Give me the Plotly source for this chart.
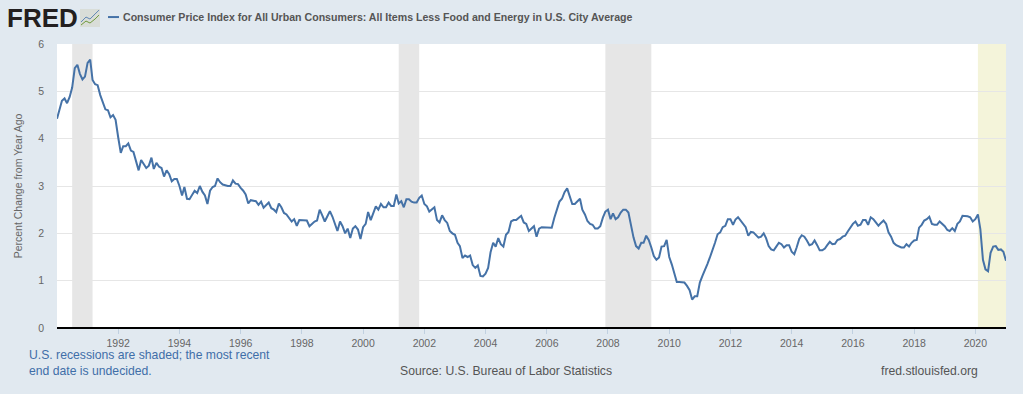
import pandas as pd
import plotly.graph_objects as go

values = [
 4.42,4.6,4.8,4.85,4.75,4.88,5.08,5.49,5.56,5.37,5.25,5.31,
 5.6,5.67,5.24,5.15,5.13,4.92,4.75,4.62,4.6,4.45,4.5,4.4,
 4.03,3.7,3.84,3.84,3.9,3.75,3.72,3.55,3.33,3.55,3.47,3.38,
 3.43,3.6,3.36,3.49,3.41,3.38,3.2,3.33,3.25,3.1,3.15,3.15,
 3.0,2.8,2.98,2.73,2.72,2.82,2.9,2.85,3.0,2.88,2.8,2.62,
 2.9,2.98,3.0,3.16,3.08,3.03,3.01,3.0,3.0,3.12,3.05,3.04,
 2.96,2.9,2.82,2.63,2.7,2.69,2.68,2.6,2.67,2.54,2.6,2.65,
 2.53,2.5,2.45,2.63,2.55,2.43,2.4,2.33,2.25,2.3,2.16,2.28,
 2.28,2.28,2.27,2.15,2.2,2.25,2.27,2.5,2.38,2.25,2.36,2.47,
 2.35,2.2,2.05,2.25,2.15,2.0,2.1,1.9,2.1,2.15,2.08,1.88,
 2.13,2.2,2.45,2.28,2.44,2.57,2.5,2.62,2.55,2.55,2.65,2.58,
 2.58,2.82,2.63,2.68,2.55,2.72,2.72,2.67,2.65,2.65,2.75,2.8,
 2.62,2.57,2.46,2.5,2.55,2.28,2.23,2.38,2.28,2.22,2.05,2.0,
 1.97,1.8,1.73,1.48,1.53,1.5,1.53,1.33,1.27,1.32,1.1,1.09,
 1.15,1.27,1.6,1.8,1.72,1.9,1.77,1.72,1.97,2.03,2.25,2.28,
 2.28,2.33,2.37,2.23,2.2,2.05,2.1,2.15,1.93,2.1,2.13,2.13,
 2.13,2.12,2.12,2.33,2.5,2.67,2.73,2.87,2.95,2.78,2.62,2.62,
 2.68,2.73,2.5,2.4,2.26,2.2,2.18,2.1,2.1,2.15,2.33,2.46,
 2.5,2.3,2.42,2.3,2.34,2.44,2.5,2.5,2.44,2.15,1.91,1.73,
 1.68,1.8,1.8,1.95,1.86,1.7,1.52,1.44,1.49,1.72,1.73,1.86,
 1.5,1.34,1.15,0.97,0.97,0.96,0.96,0.89,0.8,0.6,0.67,0.67,
 0.96,1.1,1.24,1.35,1.49,1.63,1.8,1.98,2.02,2.13,2.16,2.3,
 2.3,2.18,2.29,2.34,2.27,2.2,2.13,1.95,2.03,2.02,1.97,1.91,
 1.93,2.0,1.9,1.73,1.66,1.64,1.72,1.8,1.77,1.7,1.75,1.75,
 1.61,1.56,1.7,1.88,1.96,1.93,1.85,1.75,1.77,1.85,1.75,1.64,
 1.64,1.68,1.75,1.82,1.77,1.78,1.86,1.88,1.93,1.95,2.04,2.13,
 2.2,2.25,2.16,2.18,2.28,2.28,2.18,2.34,2.3,2.23,2.16,2.22,
 2.27,2.2,2.02,1.93,1.8,1.75,1.72,1.7,1.7,1.77,1.72,1.8,
 1.85,1.86,2.12,2.18,2.27,2.3,2.35,2.2,2.18,2.18,2.25,2.21,
 2.15,2.07,2.05,2.11,2.05,2.2,2.25,2.37,2.37,2.36,2.34,2.25,
 2.3,2.4,2.09,1.44,1.24,1.2,1.59,1.72,1.73,1.65,1.66,1.61,
 1.42,
]
dates = pd.date_range("1990-01-01", periods=len(values), freq="MS")
recessions = [("1990-07-01","1991-03-01"),("2001-03-01","2001-11-01"),("2007-12-01","2009-06-01")]
undecided = [("2020-02-01","2021-01-01")]
tick_years = list(range(1992, 2021, 2))
y_ticks = [0,1,2,3,4,5,6]
series_name = "Consumer Price Index for All Urban Consumers: All Items Less Food and Energy in U.S. City Average"

BG = "#e1e9f0"; LINE = "#4572a7"; W, H = 1023, 394
FONT = "Liberation Sans"
L, R, T, B = 57, 17.4, 44, 65.5

fig = go.Figure(go.Scatter(x=dates, y=values, mode="lines", name=series_name,
                           line=dict(color=LINE, width=2), showlegend=False))
for a, b in recessions:
    fig.add_vrect(x0=a, x1=b, fillcolor="#e6e6e6", line_width=0, layer="below")
for a, b in undecided:
    fig.add_vrect(x0=a, x1=b, fillcolor="#f4f4da", line_width=0, layer="below")

def px(x, y):
    return (x - L) / (W - L - R), (H - B - y) / (H - B - T)

def note(text, x, y, size, color, anchor="left", bold=False, **kw):
    fx, fy = px(x, y)
    fig.add_annotation(text=f"<b>{text}</b>" if bold else text, x=fx, y=fy, xref="paper", yref="paper",
                       xanchor=anchor, yanchor="middle", showarrow=False, align="left",
                       font=dict(family=FONT, size=size, color=color), **kw)

note("FRED", 5, 18, 26, "#231f20", bold=True)
note(series_name, 121, 17, 10.6, "#555555", bold=True)
note("U.S. recessions are shaded; the most recent<br>end date is undecided.", 27, 364, 12.2, "#3f6ea8")
note("Source: U.S. Bureau of Labor Statistics", 506, 372, 12.2, "#555555", anchor="center")
note("fred.stlouisfed.org", 980, 372, 12.2, "#555555", anchor="right")

# legend swatch and logo badge
fx0, fy0 = px(108, 17); fx1, _ = px(119, 17)
fig.add_shape(type="line", xref="paper", yref="paper", x0=fx0, x1=fx1, y0=fy0, y1=fy0,
              line=dict(color=LINE, width=2))
bx0, by0 = px(80, 27); bx1, by1 = px(100, 9)
fig.add_shape(type="rect", xref="paper", yref="paper", x0=bx0, x1=bx1, y0=by0, y1=by1,
              fillcolor="#d9ddd8", line_width=0)
for color, pts in (("#5f86b5", [(81,22),(86,17),(90,19),(95,14),(99,10)]),
                   ("#6f9a3c", [(81,25),(86,21),(90,23),(95,19),(99,15)])):
    path = "M" + " L".join(f"{px(a,b)[0]},{px(a,b)[1]}" for a, b in pts)
    fig.add_shape(type="path", xref="paper", yref="paper", path=path, line=dict(color=color, width=1))

fig.update_layout(
    width=W, height=H, paper_bgcolor=BG, plot_bgcolor="#ffffff",
    margin=dict(l=L, r=R, t=T, b=B),
    font=dict(family=FONT, size=10.5, color="#666666"),
)
fig.update_xaxes(range=[dates[0], dates[-1]], tickvals=[f"{y}-01-01" for y in tick_years],
                 ticktext=[str(y) for y in tick_years], showgrid=False, ticks="outside",
                 ticklen=5, tickcolor="#c0d0e0", tickwidth=1, showline=False, zeroline=False)
fig.update_yaxes(range=[0, 6], tickvals=y_ticks, gridcolor="#e6e6e6", gridwidth=1, zeroline=True,
                 zerolinecolor="#000000", zerolinewidth=2, showline=False, ticks="",
                 ticklabelstandoff=12,
                 title=dict(text="Percent Change from Year Ago", font=dict(size=10.5, color="#666666"), standoff=13))
fig.write_html("out.html", config={"displayModeBar": False}, post_script="document.body.style.margin='0';")
